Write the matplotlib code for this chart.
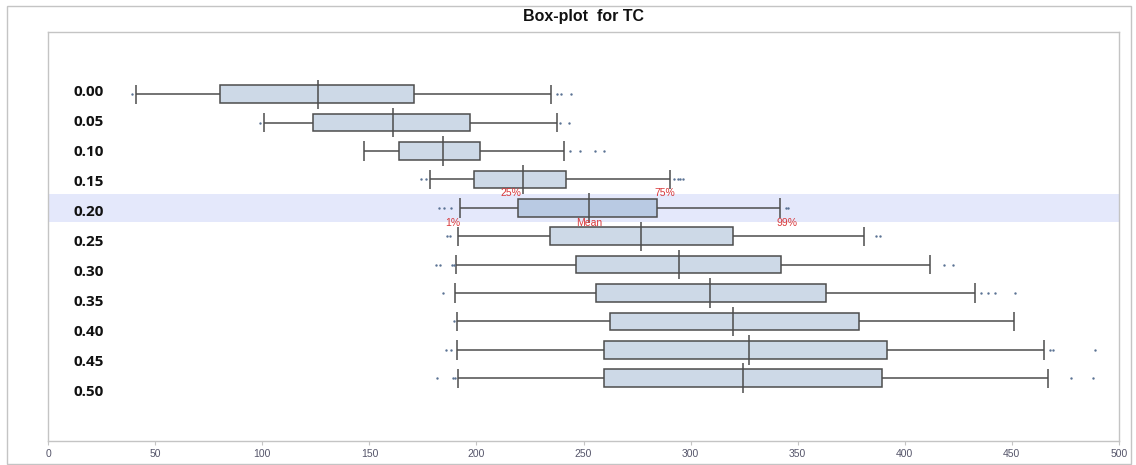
import matplotlib.pyplot as plt
from matplotlib.patches import Rectangle
import matplotlib.transforms as mtransforms

# percentile summary of TC for each level
levels = ["0.00", "0.05", "0.10", "0.15", "0.20", "0.25",
          "0.30", "0.35", "0.40", "0.45", "0.50"]
p1 = [41.0, 100.6, 147.4, 178.2, 192.3, 191.3, 190.3, 189.8, 190.7, 190.7, 191.5]
q1 = [80.0, 123.5, 163.9, 198.8, 219.3, 234.2, 246.7, 255.7, 262.4, 259.8, 259.8]
mean = [126.0, 160.9, 184.2, 221.9, 252.5, 276.9, 294.7, 308.9, 320.0, 327.2, 324.4]
q3 = [170.7, 196.8, 201.5, 241.8, 284.1, 319.7, 342.3, 363.3, 378.9, 391.7, 389.4]
p99 = [234.7, 237.4, 240.9, 290.4, 341.8, 381.0, 411.7, 432.7, 451.1, 465.2, 467.1]
outliers = [
    [39.0, 237.6, 239.4, 244.0],
    [98.7, 239.0, 243.3],
    [243.7, 248.3, 255.4, 259.6],
    [174.2, 176.2, 292.1, 294.0, 295.3, 296.3],
    [182.4, 184.8, 187.9, 344.5, 345.7],
    [186.4, 187.8, 386.4, 388.6],
    [180.9, 183.2, 188.8, 189.6, 418.4, 422.6],
    [184.3, 435.5, 439.0, 442.4, 451.7],
    [189.5],
    [185.6, 187.9, 467.8, 469.4, 488.8],
    [181.4, 189.0, 189.8, 477.9, 487.8],
]
highlight = 4  # row carrying the percentile legend
xticks = [0, 50, 100, 150, 200, 250, 300, 350, 400, 450, 500]

box_fill = "#cdd9e7"
box_fill_hi = "#b9cae3"
band_col = "#e4e8fb"
edge_col = "#4d4d4d"
dot_col = "#5b7394"
red = "#d9383a"
grey = "#c4c4c4"

plt.rcParams["font.family"] = ["Liberation Sans", "DejaVu Sans"]

fig = plt.figure(figsize=(11.36, 4.65), dpi=100)
ax = fig.add_axes([0.0425, 0.0516, 0.9423, 0.8802])

rows = list(range(len(levels)))

ax.axhspan(highlight - 0.5, highlight + 0.5, color=band_col, lw=0, zorder=0)

# whiskers from the 1st to the 99th percentile
ax.hlines(rows, p1, q1, color=edge_col, lw=1.1, zorder=2)
ax.hlines(rows, q3, p99, color=edge_col, lw=1.1, zorder=2)
ax.vlines(p1, [r - 0.34 for r in rows], [r + 0.34 for r in rows], color=edge_col, lw=1.1, zorder=2)
ax.vlines(p99, [r - 0.34 for r in rows], [r + 0.34 for r in rows], color=edge_col, lw=1.1, zorder=2)

# interquartile boxes
fills = [box_fill_hi if r == highlight else box_fill for r in rows]
ax.barh(rows, [b - a for a, b in zip(q1, q3)], left=q1, height=0.62,
        color=fills, edgecolor=edge_col, linewidth=1.1, zorder=3)

# mean marker
ax.vlines(mean, [r - 0.52 for r in rows], [r + 0.52 for r in rows], color=edge_col, lw=1.1, zorder=4)

for r, pts in zip(rows, outliers):
    ax.scatter(pts, [r] * len(pts), s=3, color=dot_col, lw=0, zorder=4)

# percentile legend on the highlighted row
r = highlight
notes = [("25%", q1[r], -5.0, 11.0), ("75%", q3[r], 5.8, 11.0),
         ("1%", p1[r], -5.5, -11.2), ("Mean", mean[r], 0, -11.2),
         ("99%", p99[r], 4.8, -11.2)]
for txt, xv, dx, dy in notes:
    ax.annotate(txt, (xv, r), xytext=(dx, dy), textcoords="offset points",
                ha="center", va="center", fontsize=7.5, color=red, zorder=5)

# category labels sit inside the frame
trans = mtransforms.blended_transform_factory(ax.transAxes, ax.transData)
for i, lbl in enumerate(levels):
    ax.text(0.052, i * 30 / 28.4 - 2 / 28.4, lbl, transform=trans, ha="right",
            va="center", fontsize=11, fontweight="bold", family=["Open Sans", "DejaVu Sans"],
            color="#111111")

ax.set_xlim(0, 500)
ax.set_ylim(12.21, -2.204)
ax.set_xticks(xticks)
ax.set_xticklabels([str(t) for t in xticks])
ax.set_yticks([])
ax.tick_params(axis="x", length=3, width=0.8, color=grey, labelsize=7.5,
               labelcolor="#55556a", pad=3)
for s in ax.spines.values():
    s.set_color(grey)
    s.set_linewidth(1.0)

fig.text(0.5136, 1 - 16 / 465, "Box-plot  for TC", ha="center", va="center",
         fontsize=11.5, fontweight="bold", color="#111111")

fig.add_artist(Rectangle((7 / 1136, 1.5 / 465), 1124 / 1136, 457 / 465,
                         transform=fig.transFigure, fill=False, edgecolor=grey, lw=1.0))

fig.savefig("out.png", dpi=100)
